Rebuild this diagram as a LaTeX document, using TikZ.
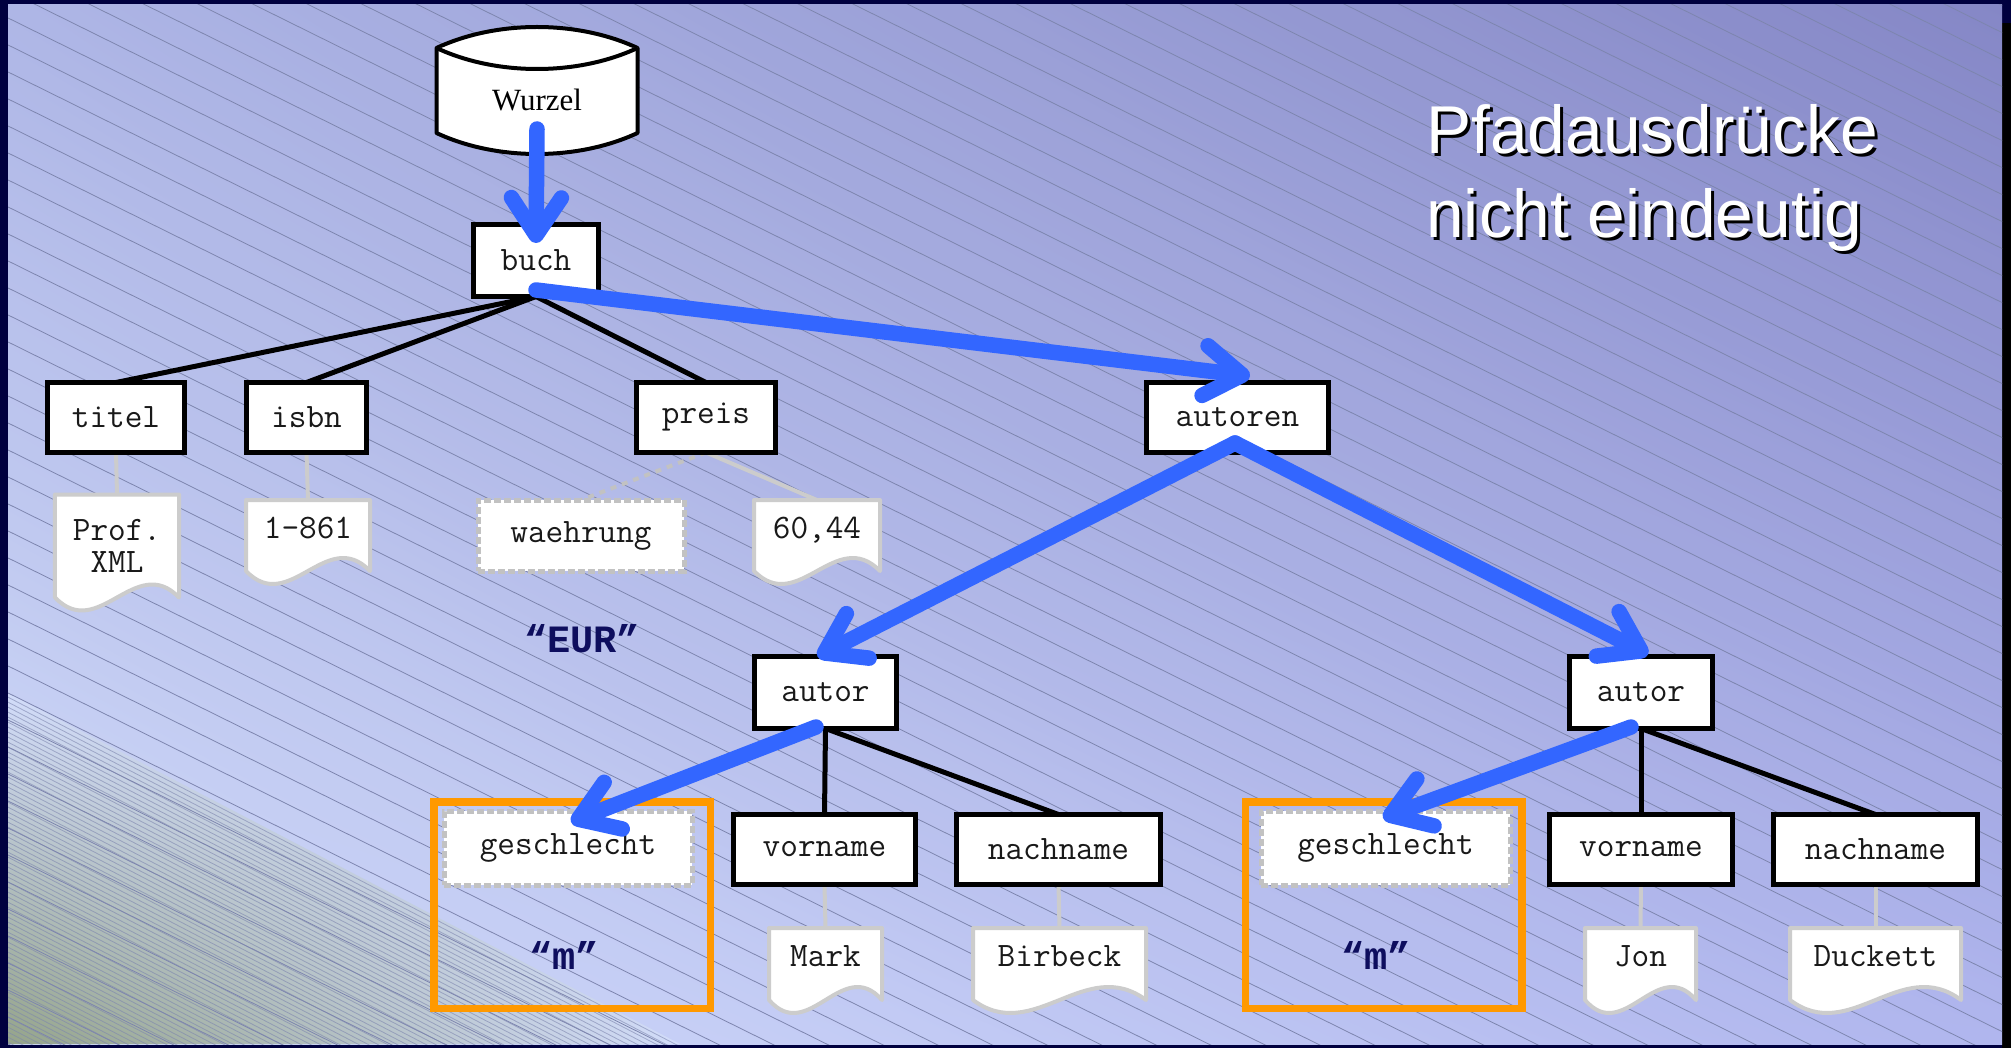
\documentclass[tikz,border=0pt]{standalone}
\usepackage{fontspec}
\setmainfont{Liberation Serif}
\newfontfamily\kastenfont{Latin Modern Mono}
\newfontfamily\wertfont{Liberation Mono}
\newfontfamily\folienfont{Liberation Sans}
\usetikzlibrary{arrows.meta,calc,shadings}

\definecolor{foliennavy}{HTML}{00003F}
\definecolor{pfadblau}{HTML}{3366FF}
\definecolor{blattgrau}{HTML}{CCCCCC}
\definecolor{strichgrau}{HTML}{C2C2C2}
\definecolor{wahlorange}{HTML}{FF9900}
\definecolor{wertnavy}{HTML}{0E0E5E}
\definecolor{streifen}{HTML}{7D85AE}
\definecolor{licht}{HTML}{D2DCFA}
\definecolor{gruengrau}{HTML}{95A48A}
\definecolor{obenlinks}{HTML}{AEB6E6}
\definecolor{obenrechts}{HTML}{8587C6}
\definecolor{untenrechts}{HTML}{B0B6EE}

\pgfdeclarelayer{hinten}
\pgfsetlayers{hinten,main}

\tikzset{
    element/.style={draw=black, line width=1mm, fill=white, inner sep=0pt, outer sep=0pt,
        minimum height=14mm, text=black!90, font=\kastenfont\fontsize{19.5}{18.2}\selectfont},
    attribut/.style={draw=strichgrau, line width=1mm, dash pattern=on 1.4mm off 0.6mm, fill=white,
        inner sep=0pt, outer sep=0pt, minimum height=14.2mm, text=black!90,
        font=\kastenfont\fontsize{19.5}{18.2}\selectfont},
    dokument/.style={inner sep=0pt, outer sep=0pt, align=center, text=black!90,
        text height=3.8mm, text depth=2.8mm, font=\kastenfont\fontsize{19.5}{18.2}\selectfont},
    dokrand/.style={draw=blattgrau, fill=white, line width=0.8mm, line join=round},
    zylinder/.style={draw=black, fill=white, line width=0.8mm, line join=round},
    baumkante/.style={draw=black, line width=1mm},
    blattkante/.style={draw=blattgrau, line width=0.8mm},
    attributkante/.style={draw=strichgrau, line width=0.8mm, dash pattern=on 1.2mm off 1.2mm},
    pfeil/.style={draw=pfadblau, line width=3.1mm, line cap=round,
        -{Straight Barb[round, length=7.5mm, width=10mm]}},
    auswahl/.style={draw=wahlorange, line width=1.5mm, inner sep=0pt, outer sep=0pt,
        minimum width=55.3mm, minimum height=41.3mm},
    wert/.style={text=wertnavy, inner sep=0pt, font=\wertfont\bfseries\fontsize{22}{24}\selectfont},
    ueberschrift/.style={anchor=north west, inner sep=0pt, align=left,
        font=\folienfont\fontsize{38.5}{47.6}\selectfont},
    streifenlinie/.style={draw=streifen, line width=0.45pt}
}

\newcommand{\dokrahmen}[1]{%
    \begin{pgfonlayer}{hinten}
        \draw[dokrand] (#1.south west) -- (#1.north west) -- (#1.north east) -- (#1.south east)
            .. controls ($(#1.south east)!0.35!(#1.south west)+(0,-45)$) and ($(#1.south east)!0.65!(#1.south west)+(0,45)$) .. (#1.south west) -- cycle;
    \end{pgfonlayer}}

\begin{document}
\begin{tikzpicture}[x=0.2mm, y=-0.2mm]

            \useasboundingbox (0,0) rectangle (2011,1048);

            \begin{pgfonlayer}{hinten}
                \fill[foliennavy] (0,0) rectangle (2011,1048);
                \fill[black] (2002,23) rectangle (2011,1048);
                \shade[upper left=obenlinks, upper right=obenrechts, lower left=licht, lower right=untenrechts] (8,5) rectangle (2002,1044);
                \begin{scope}
                    \clip (8,693) -- (8,1044) -- (680,1044) -- cycle;
                    \shade[upper left=licht, upper right=licht, lower right=licht, lower left=gruengrau] (8,693) rectangle (680,1044);
                \end{scope}
                \begin{scope}
                    \clip (8,5) rectangle (2002,1044);
                    \foreach \k in {-38,...,39} \draw[streifenlinie] (0,{14+27*\k}) -- ++(2011,995);
                    \foreach \k in {0,...,75} \draw[streifenlinie, draw opacity=0.6] (0,{693+5*\k}) -- ++(1000,520);
                \end{scope}
            \end{pgfonlayer}

            \node[inner sep=0pt, outer sep=0pt, minimum width=40.2mm, minimum height=21mm,
                font=\fontsize{17.6}{20}\selectfont] (Wurzel) at (537,100.5) {Wurzel};
            \begin{pgfonlayer}{hinten}
                \draw[zylinder] (Wurzel.north west) .. controls +(60,-28) and +(-60,-28) .. (Wurzel.north east)
                    -- ($(Wurzel.south east)+(0,-20)$) .. controls +(-60,28) and +(60,28) .. ($(Wurzel.south west)+(0,-20)$) -- cycle;
                \draw[zylinder] (Wurzel.north west) .. controls +(60,28) and +(-60,28) .. (Wurzel.north east);
            \end{pgfonlayer}

            \node[element, minimum width=25mm, minimum height=14.4mm] (Buch) at (536,260.5) {buch};
            \node[element, minimum width=27.4mm] (Titel) at (116,417.5) {titel};
            \node[element, minimum width=24mm] (Isbn) at (306.5,417.5) {isbn};
            \node[element, minimum width=27.8mm] (Preis) at (706,417.5) {preis};
            \node[element, minimum width=36.4mm] (Autoren) at (1237.5,417.5) {autoren};
            \node[element, minimum width=28.4mm, minimum height=14.4mm] (Autor1) at (825.5,692.5) {autor};
            \node[element, minimum width=28.6mm, minimum height=14.4mm] (Autor2) at (1641,692.5) {autor};
            \node[element, minimum width=36.4mm] (Vorname1) at (824.5,849.5) {vorname};
            \node[element, minimum width=40.8mm] (Nachname1) at (1058.5,849.5) {nachname};
            \node[element, minimum width=36.6mm] (Vorname2) at (1641,849.5) {vorname};
            \node[element, minimum width=40.8mm] (Nachname2) at (1875.5,849.5) {nachname};

            \node[attribut, minimum width=41.2mm] (Waehrung) at (581,535.5) {waehrung};
            \node[attribut, minimum width=49.6mm, minimum height=14.8mm] (Geschlecht1) at (568,848) {geschlecht};
            \node[attribut, minimum width=49.8mm, minimum height=14.8mm] (Geschlecht2) at (1385.5,848) {geschlecht};

            \node[dokument, text height={}, text depth={}, minimum width=24.8mm, minimum height=20.6mm] (Prof) at (117,546) {Prof.\\XML};
            \node[dokument, minimum width=24.8mm, minimum height=14.2mm] (IsbnWert) at (308,535.5) {1-861};
            \node[dokument, minimum width=25.2mm, minimum height=14.2mm] (PreisWert) at (817,535.5) {60,44};
            \node[dokument, minimum width=22.6mm, minimum height=14.4mm] (Mark) at (825.5,964) {Mark};
            \node[dokument, minimum width=34.6mm, minimum height=14.4mm] (Birbeck) at (1059.5,964) {Birbeck};
            \node[dokument, minimum width=22.2mm, minimum height=14.4mm] (Jon) at (1640.5,964) {Jon};
            \node[dokument, minimum width=34.2mm, minimum height=14.4mm] (Duckett) at (1875.5,964) {Duckett};
            \dokrahmen{Prof}
            \dokrahmen{IsbnWert}
            \dokrahmen{PreisWert}
            \dokrahmen{Mark}
            \dokrahmen{Birbeck}
            \dokrahmen{Jon}
            \dokrahmen{Duckett}

            \begin{pgfonlayer}{hinten}
                \path[baumkante] (Buch.south) edge (Titel.north);
                \path[baumkante] (Buch.south) edge (Isbn.north);
                \path[baumkante] (Buch.south) edge (Preis.north);
                \path[baumkante] (Autor1.south) edge (Vorname1.north);
                \path[baumkante] (Autor1.south) edge (Nachname1.north);
                \path[baumkante] (Autor2.south) edge (Vorname2.north);
                \path[baumkante] (Autor2.south) edge (Nachname2.north);

                \path[blattkante] (Titel.south) edge (Prof.north);
                \path[blattkante] (Isbn.south) edge (IsbnWert.north);
                \path[blattkante] (Preis.south) edge (PreisWert.north);
                \path[attributkante] (Preis.south) edge (Waehrung.north);
                \path[blattkante] (Vorname1.south) edge (Mark.north);
                \path[blattkante] (Nachname1.south) edge (Birbeck.north);
                \path[blattkante] (Vorname2.south) edge (Jon.north);
                \path[blattkante] (Nachname2.south) edge (Duckett.north);
            \end{pgfonlayer}

            \node[auswahl] (Auswahl1) at (572,905) {};
            \node[auswahl] (Auswahl2) at (1383.5,905) {};

            \node[wert] (Eur) at (582,639) {“EUR”};
            \node[wert] (Wert1) at (564,955) {“m”};
            \node[wert] (Wert2) at (1376,955) {“m”};

            \draw[pfeil] ($(Wurzel.center)+(0,28.5)$) -- ($(Buch.north)+(0,18.5)$);
            \draw[pfeil] ($(Buch.south)+(0,-6.5)$) -- ($(Autoren.north)+(12.5,-6.5)$);
            \draw[pfeil] ($(Autoren.south)+(-2.5,-9.5)$) -- ($(Autor1.north)+(-8,0)$);
            \draw[pfeil] ($(Autoren.south)+(-2.5,-9.5)$) -- ($(Autor2.north)+(7,-2)$);
            \draw[pfeil] ($(Autor1.south)+(-9.5,-1.5)$) -- ($(Geschlecht1.north)+(3,11)$);
            \draw[pfeil] ($(Autor2.south)+(-10,-1.5)$) -- ($(Geschlecht2.north)+(-2.5,7)$);

            \node[ueberschrift, text=black] (UeberschriftSchatten) at (1429,107) {Pfadausdrücke\\nicht eindeutig};
            \node[ueberschrift, text=white] (Ueberschrift) at (1426,104) {Pfadausdrücke\\nicht eindeutig};
\end{tikzpicture}
\end{document}
